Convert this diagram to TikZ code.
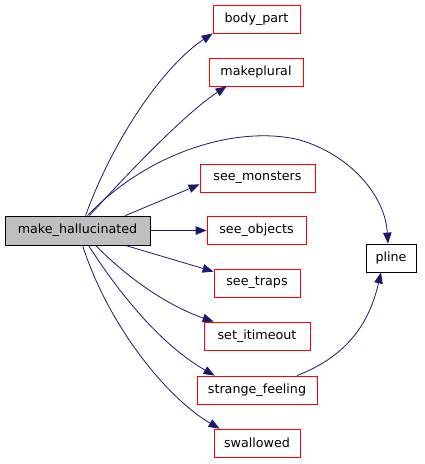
\documentclass[tikz,border=0pt]{standalone}
\usepackage{fontspec}
\setmainfont{DejaVu Sans}
\usetikzlibrary{arrows.meta, calc}
\definecolor{callblue}{RGB}{25,25,112}
\definecolor{linkred}{RGB}{255,0,0}
\definecolor{rootgray}{RGB}{191,191,191}
\tikzset{
    fnbox/.style={draw=linkred, line width=0.8pt, minimum height=28pt, inner sep=0pt, font=\fontsize{12.7}{14}\selectfont},
    rootbox/.style={draw=black, fill=rootgray, line width=0.8pt, minimum height=29pt, inner sep=0pt, font=\fontsize{12.7}{14}\selectfont},
    plainbox/.style={draw=black, line width=0.8pt, minimum height=28pt, inner sep=0pt, font=\fontsize{12.7}{14}\selectfont},
    callarrow/.style={-{Triangle[length=11pt, width=8.5pt, fill=callblue]}, draw=callblue, line width=0.8pt}
}

\begin{document}
\begin{tikzpicture}[x=1pt, y=-1pt]
  \useasboundingbox (0,0) rectangle (424,464);
  \node[rootbox, minimum width=145pt]  (mh) at (77.5,230.5) {make\_hallucinated};
  \node[fnbox, minimum width=87pt]     (bp) at (256.5,19)   {body\_part};
  \node[fnbox, minimum width=94pt]     (mp) at (256,72)     {makeplural};
  \node[fnbox, minimum width=115pt]    (sm) at (257.5,178)  {see\_monsters};
  \node[fnbox, minimum width=99pt]     (so) at (256.5,230.5){see\_objects};
  \node[fnbox, minimum width=86pt]     (st) at (257,283)    {see\_traps};
  \node[fnbox, minimum width=106pt]    (si) at (257,336)    {set\_itimeout};
  \node[fnbox, minimum width=120pt]    (sf) at (257,390)    {strange\_feeling};
  \node[fnbox, minimum width=86pt]     (sw) at (257,443)    {swallowed};
  \node[plainbox, minimum width=50pt]  (pl) at (391,258)    {pline};
  % calls from make_hallucinated
  \draw[callarrow] ($(mh.north)+(8,0)$)   .. controls (115,135) and (165,65)  .. (bp.south west);
  \draw[callarrow] ($(mh.north)+(12,0)$)  .. controls (140,160) and (190,110) .. ($(mp.south west)+(18,0)$);
  \draw[callarrow] ($(mh.north)+(10,0)$)  .. controls (150,150) and (240,125) .. (300,140)
                                          .. controls (350,155) and (385,195) .. ($(pl.north)+(-3,0)$);
  \draw[callarrow] ($(mh.north east)+(-25,0)$) -- ($(sm.south west)+(0,-8)$);
  \draw[callarrow] (mh.east) -- (so.west);
  \draw[callarrow] ($(mh.south east)+(-25,0)$) -- ($(st.north west)+(0,3)$);
  \draw[callarrow] ($(mh.south)+(18,0)$)  .. controls (140,290) and (180,310) .. ($(si.north west)+(10,0)$);
  \draw[callarrow] ($(mh.south)+(11,0)$)  .. controls (130,310) and (170,350) .. ($(sf.north west)+(18,0)$);
  \draw[callarrow] ($(mh.south)+(5,0)$)   .. controls (110,330) and (170,400) .. ($(sw.north west)+(6,0)$);
  % second level
  \draw[callarrow] ($(sf.north)+(40,0)$)  .. controls (350,355) and (370,320) .. ($(pl.south)+(-10,0)$);
\end{tikzpicture}
\end{document}
